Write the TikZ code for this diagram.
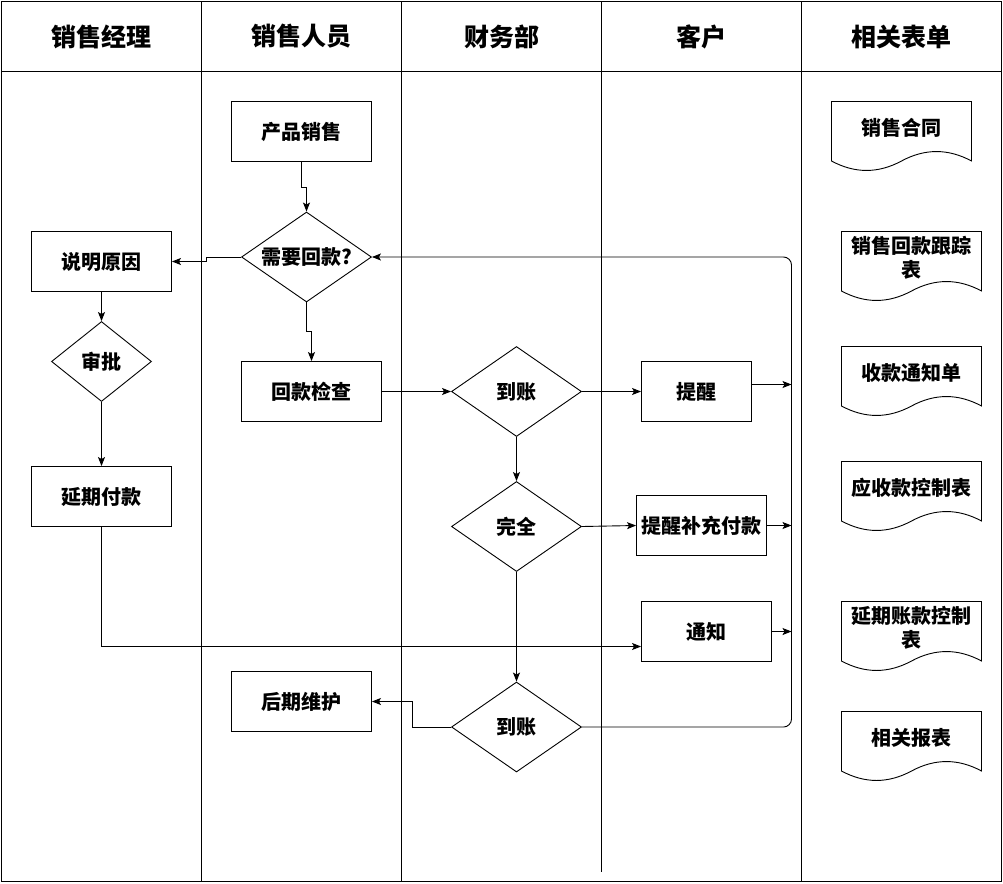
\documentclass[tikz,border=0pt]{standalone}
\usepackage{fontspec}
\setmainfont{Noto Sans CJK SC}
\usetikzlibrary{shapes.geometric,arrows.meta}
\tikzset{
  lane/.style={draw=black, line width=0.9pt},
  outer/.style={draw=black, line width=1.6pt},
  hdr/.style={font=\bfseries\fontsize{25}{30}\selectfont},
  txt/.style={font=\bfseries\fontsize{20}{24}\selectfont, align=center},
  procbox/.style={draw, line width=0.9pt, minimum height=60pt, inner sep=0pt, txt},
  decision/.style={draw, diamond, line width=0.9pt, aspect=1.444, minimum width=130pt, minimum height=90pt, inner sep=0pt, txt},
  arr/.style={draw, line width=0.9pt, -{Stealth[length=9pt,width=7pt,inset=2pt]}},
  con/.style={draw, line width=0.9pt},
  docshape/.style={draw, line width=0.9pt}
}
\newcommand\mydoc[4]{%
  \begin{scope}[shift={(#1,#2)}]
    \path[docshape] (0,0) -- (140,0) -- (140,59.5) .. controls (116.67,46.9) and (93.33,46.9) .. (70,59.5) .. controls (46.67,72.1) and (23.33,72.1) .. (0,59.5) -- cycle;
    \node[txt] (#3) at (70,26) {#4};
  \end{scope}}
\begin{document}
\begin{tikzpicture}[x=1pt,y=-1pt]
\useasboundingbox (-1.5,-1.5) rectangle (1001.5,881.5);
% lanes
\path[outer] (0,0) rectangle (1000,880);
\path[outer] (0,70) -- (1000,70);
\path[lane] (200,0) -- (200,880);
\path[lane] (400,0) -- (400,880);
\path[lane] (600,0) -- (600,870);
\path[lane] (800,0) -- (800,880);
% headers
\node[hdr] (h1) at (100,35) {销售经理};
\node[hdr] (h2) at (300,35) {销售人员};
\node[hdr] (h3) at (500,35) {财务部};
\node[hdr] (h4) at (700,35) {客户};
\node[hdr] (h5) at (900,35) {相关表单};
% process nodes
\node[procbox, minimum width=140pt] (cp) at (300,130) {产品销售};
\node[decision] (xy) at (305,255.5) {需要回款?};
\node[procbox, minimum width=140pt] (sm) at (100,260) {说明原因};
\node[decision, minimum width=100pt, minimum height=80pt, aspect=1.25] (sp) at (100,360) {审批};
\node[procbox, minimum width=140pt] (yq) at (100,495) {延期付款};
\node[procbox, minimum width=140pt] (hk) at (310,390) {回款检查};
\node[decision] (dz1) at (515,390) {到账};
\node[procbox, minimum width=110pt] (tx) at (695,390) {提醒};
\node[decision] (wq) at (515,525) {完全};
\node[procbox, minimum width=130pt] (bc) at (700,524) {提醒补充付款};
\node[procbox, minimum width=130pt] (tz) at (705,630) {通知};
\node[decision] (dz2) at (515,725.5) {到账};
\node[procbox, minimum width=140pt] (hq) at (300,700) {后期维护};
% loop coordinates
\coordinate (L) at (790,0);
\coordinate (LB) at (790,725.5);
\coordinate (LT) at (790,255.5);
% connectors
\path[arr] (cp.south) -- ++(0,25) -| (xy.north);
\path[arr] (xy.west) -- ++(-35,0) |- (sm.east);
\path[arr] (xy.south) -- ++(0,29) -| (hk.north);
\path[arr] (sm.south) -- (sp.north);
\path[arr] (sp.south) -- (yq.north);
\path[arr] (yq.south) |- ([yshift=-15pt]tz.west);
\path[arr] (hk.east) -- (dz1.west);
\path[arr] (dz1.east) -- (tx.west);
\path[arr] (dz1.south) -- (wq.north);
\path[arr] (wq.east) -- (bc.west);
\path[arr] (wq.south) -- (dz2.north);
\path[arr] (dz2.west) -- ++(-39,0) |- (hq.east);
\path[arr, rounded corners=8pt] (dz2.east) -- (LB) -- (LT) -- (xy.east);
\path[arr] ([yshift=7pt]tx.east) -- ([yshift=7pt]tx.east -| L);
\path[arr] (bc.east) -- (bc.east -| L);
\path[arr] (tz.east) -- (tz.east -| L);
% documents
\mydoc{830}{100}{f1}{销售合同}
\mydoc{840}{230}{f2}{销售回款跟踪\\表}
\mydoc{840}{345}{f3}{收款通知单}
\mydoc{840}{460}{f4}{应收款控制表}
\mydoc{840}{600}{f5}{延期账款控制\\表}
\mydoc{840}{710}{f6}{相关报表}
\end{tikzpicture}
\end{document}
